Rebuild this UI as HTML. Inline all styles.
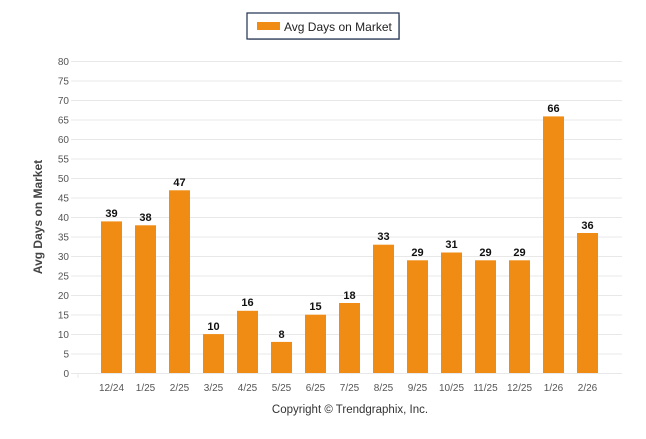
<!DOCTYPE html>
<html><head><style>body{margin:0;background:#fff}</style></head><body>
<svg width="646" height="434" xmlns="http://www.w3.org/2000/svg" font-family="Liberation Sans, sans-serif">
<rect x="249" y="15" width="151" height="25" fill="#c8c8c8"/>
<rect x="247" y="13" width="152" height="26" fill="#fff" stroke="#1f3050" stroke-width="1.2"/>
<rect x="257" y="22" width="23" height="8" fill="#f08c14"/>
<text x="284" y="31" font-size="12" fill="#222">Avg Days on Market</text>
<g stroke="#e8e8e8" stroke-width="1">
<line x1="71" x2="622" y1="61.5" y2="61.5"/><line x1="71" x2="622" y1="81" y2="81"/><line x1="71" x2="622" y1="100.5" y2="100.5"/><line x1="71" x2="622" y1="120" y2="120"/><line x1="71" x2="622" y1="139.5" y2="139.5"/><line x1="71" x2="622" y1="159" y2="159"/><line x1="71" x2="622" y1="178.5" y2="178.5"/><line x1="71" x2="622" y1="198" y2="198"/><line x1="71" x2="622" y1="217.5" y2="217.5"/><line x1="71" x2="622" y1="237" y2="237"/><line x1="71" x2="622" y1="256.5" y2="256.5"/><line x1="71" x2="622" y1="276" y2="276"/><line x1="71" x2="622" y1="295.5" y2="295.5"/><line x1="71" x2="622" y1="315" y2="315"/><line x1="71" x2="622" y1="334.5" y2="334.5"/><line x1="71" x2="622" y1="354" y2="354"/><line x1="71" x2="622" y1="373.5" y2="373.5"/>
<line x1="78" x2="78" y1="373" y2="378"/>
</g>
<g font-size="10" fill="#555" text-anchor="end">
<text x="69" y="65">80</text><text x="69" y="84.5">75</text><text x="69" y="104">70</text><text x="69" y="123.5">65</text><text x="69" y="143">60</text><text x="69" y="162.5">55</text><text x="69" y="182">50</text><text x="69" y="201.5">45</text><text x="69" y="221">40</text><text x="69" y="240.5">35</text><text x="69" y="260">30</text><text x="69" y="279.5">25</text><text x="69" y="299">20</text><text x="69" y="318.5">15</text><text x="69" y="338">10</text><text x="69" y="357.5">5</text><text x="69" y="377">0</text>
</g>
<text transform="translate(42,217) rotate(-90)" font-size="12" font-weight="bold" fill="#444" text-anchor="middle">Avg Days on Market</text>
<g id="bars"></g>
<text x="350" y="413" font-size="11.5" fill="#333" text-anchor="middle">Copyright © Trendgraphix, Inc.</text>
<g fill="#f08c14">
<rect x="101" y="221.4" width="21" height="151.6"/>
<rect x="135" y="225.3" width="21" height="147.7"/>
<rect x="169" y="190.3" width="21" height="182.7"/>
<rect x="203" y="334.1" width="21" height="38.9"/>
<rect x="237" y="310.8" width="21" height="62.2"/>
<rect x="271" y="341.9" width="21" height="31.1"/>
<rect x="305" y="314.7" width="21" height="58.3"/>
<rect x="339" y="303" width="21" height="70"/>
<rect x="373" y="244.7" width="21" height="128.3"/>
<rect x="407" y="260.3" width="21" height="112.7"/>
<rect x="441" y="252.5" width="21" height="120.5"/>
<rect x="475" y="260.3" width="21" height="112.7"/>
<rect x="509" y="260.3" width="21" height="112.7"/>
<rect x="543" y="116.4" width="21" height="256.6"/>
<rect x="577" y="233" width="21" height="140"/>
</g>
<g font-size="11" font-weight="bold" fill="#111" text-anchor="middle">
<text x="111.5" y="217">39</text><text x="145.5" y="221">38</text><text x="179.5" y="186">47</text><text x="213.5" y="330">10</text><text x="247.5" y="306">16</text><text x="281.5" y="338">8</text><text x="315.5" y="310">15</text><text x="349.5" y="299">18</text><text x="383.5" y="240">33</text><text x="417.5" y="256">29</text><text x="451.5" y="248">31</text><text x="485.5" y="256">29</text><text x="519.5" y="256">29</text><text x="553.5" y="112">66</text><text x="587.5" y="229">36</text>
</g>
<g font-size="10" fill="#555" text-anchor="middle">
<text x="111.5" y="391">12/24</text><text x="145.5" y="391">1/25</text><text x="179.5" y="391">2/25</text><text x="213.5" y="391">3/25</text><text x="247.5" y="391">4/25</text><text x="281.5" y="391">5/25</text><text x="315.5" y="391">6/25</text><text x="349.5" y="391">7/25</text><text x="383.5" y="391">8/25</text><text x="417.5" y="391">9/25</text><text x="451.5" y="391">10/25</text><text x="485.5" y="391">11/25</text><text x="519.5" y="391">12/25</text><text x="553.5" y="391">1/26</text><text x="587.5" y="391">2/26</text>
</g>
</svg>
</body></html>
